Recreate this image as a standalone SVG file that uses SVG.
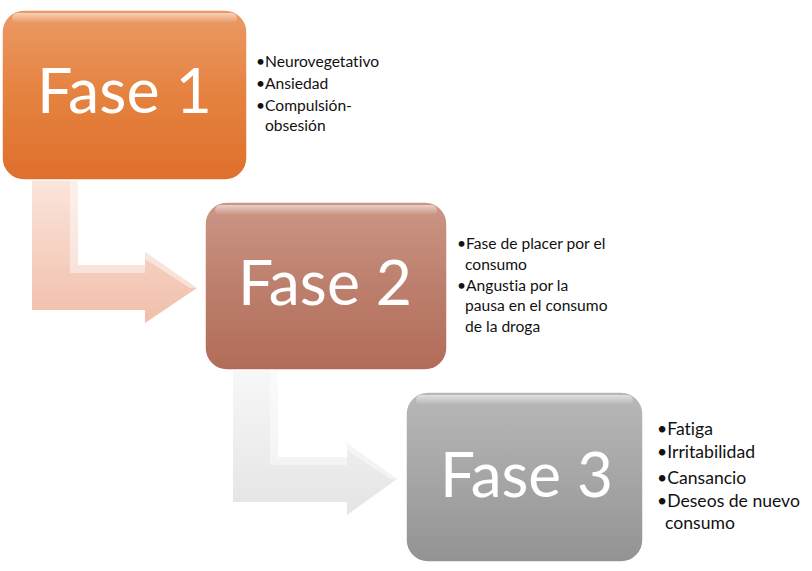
<svg xmlns="http://www.w3.org/2000/svg" width="812" height="571" viewBox="0 0 812 571">
<defs>
<linearGradient id="g1" x1="0" y1="0" x2="0" y2="1"><stop offset="0" stop-color="#eb9a66"/><stop offset="0.5" stop-color="#e5823f"/><stop offset="1" stop-color="#df6f2c"/></linearGradient>
<linearGradient id="g2" x1="0" y1="0" x2="0" y2="1"><stop offset="0" stop-color="#cc9686"/><stop offset="0.5" stop-color="#bd7f6d"/><stop offset="1" stop-color="#b26b59"/></linearGradient>
<linearGradient id="g3" x1="0" y1="0" x2="0" y2="1"><stop offset="0" stop-color="#b8b8b8"/><stop offset="0.5" stop-color="#a6a6a6"/><stop offset="1" stop-color="#939393"/></linearGradient>
<linearGradient id="a1" x1="0" y1="0" x2="0" y2="1"><stop offset="0" stop-color="#fbe6dd"/><stop offset="1" stop-color="#f1bea9"/></linearGradient>
<linearGradient id="a2" x1="0" y1="0" x2="0" y2="1"><stop offset="0" stop-color="#f8f8f8"/><stop offset="1" stop-color="#e4e4e4"/></linearGradient>
<linearGradient id="hl" x1="0" y1="0" x2="0" y2="1"><stop offset="0" stop-color="#ffffff" stop-opacity="0.55"/><stop offset="1" stop-color="#ffffff" stop-opacity="0"/></linearGradient>
</defs>
<style>
.box{stroke:#ffffff;stroke-width:1.5}
.big{font-family:"Lato","Open Sans",sans-serif;font-size:62px;fill:#ffffff;font-variant-ligatures:none}
.t{font-family:"Lato","Open Sans",sans-serif;fill:#111111;font-variant-ligatures:none;font-feature-settings:"liga" 0,"clig" 0}
.t1{font-size:15.6px}
.t3{font-size:17.6px}
.hl{fill:url(#hl)}
.bev{fill:#ffffff;opacity:0.45}
</style>
<g id="connectors">
<g id="arrow1">
<path d="M32,175 L78,175 L78,265 L145,265 L145,252 L197,288 L145,323 L145,310 L32,310 Z" fill="url(#a1)"/>
<path d="M70,175 L78,175 L78,265 L70,273 Z" class="bev"/>
<path d="M70,273 L78,265 L145,265 L145,273 Z" class="bev"/>
<path d="M145,252 L197,288 L190,288 L145,259 Z" class="bev"/>
</g>
<g id="arrow2">
<path d="M233,365 L278,365 L278,457 L347,457 L347,443 L397,479 L347,515 L347,502 L233,502 Z" fill="url(#a2)"/>
<path d="M270,365 L278,365 L278,457 L270,465 Z" class="bev"/>
<path d="M270,465 L278,457 L347,457 L347,465 Z" class="bev"/>
<path d="M347,443 L397,479 L390,479 L347,450 Z" class="bev"/>
</g>
</g>
<g id="fase1">
<rect x="2" y="10" width="245" height="170" rx="22" fill="url(#g1)" class="box"/>
<rect x="12" y="13" width="225" height="10" rx="5" class="hl"/>
<text x="37" y="113" class="big" textLength="175" lengthAdjust="spacingAndGlyphs">Fase 1</text>
<text class="t t1"><tspan x="256" y="67">•Neurovegetativo</tspan><tspan x="256" y="89">•Ansiedad</tspan><tspan x="256" y="111">•Compulsión-</tspan><tspan x="265" y="131">obsesión</tspan></text>
</g>
<g id="fase2">
<rect x="205" y="202" width="242" height="168" rx="22" fill="url(#g2)" class="box"/>
<rect x="215" y="205" width="222" height="10" rx="5" class="hl"/>
<text x="238" y="305" class="big" textLength="174" lengthAdjust="spacingAndGlyphs">Fase 2</text>
<text class="t t1"><tspan x="457" y="249">•Fase de placer por el</tspan><tspan x="465" y="270">consumo</tspan><tspan x="457" y="291">•Angustia por la</tspan><tspan x="465" y="311">pausa en el consumo</tspan><tspan x="465" y="332">de la droga</tspan></text>
</g>
<g id="fase3">
<rect x="406" y="392" width="237" height="170" rx="22" fill="url(#g3)" class="box"/>
<rect x="416" y="395" width="217" height="10" rx="5" class="hl"/>
<text x="440" y="497" class="big" textLength="173" lengthAdjust="spacingAndGlyphs">Fase 3</text>
<text class="t t3"><tspan x="657" y="435">•Fatiga</tspan><tspan x="657" y="458">•Irritabilidad</tspan><tspan x="657" y="484">•Cansancio</tspan><tspan x="657" y="507">•Deseos de nuevo</tspan><tspan x="665" y="529">consumo</tspan></text>
</g>
</svg>
